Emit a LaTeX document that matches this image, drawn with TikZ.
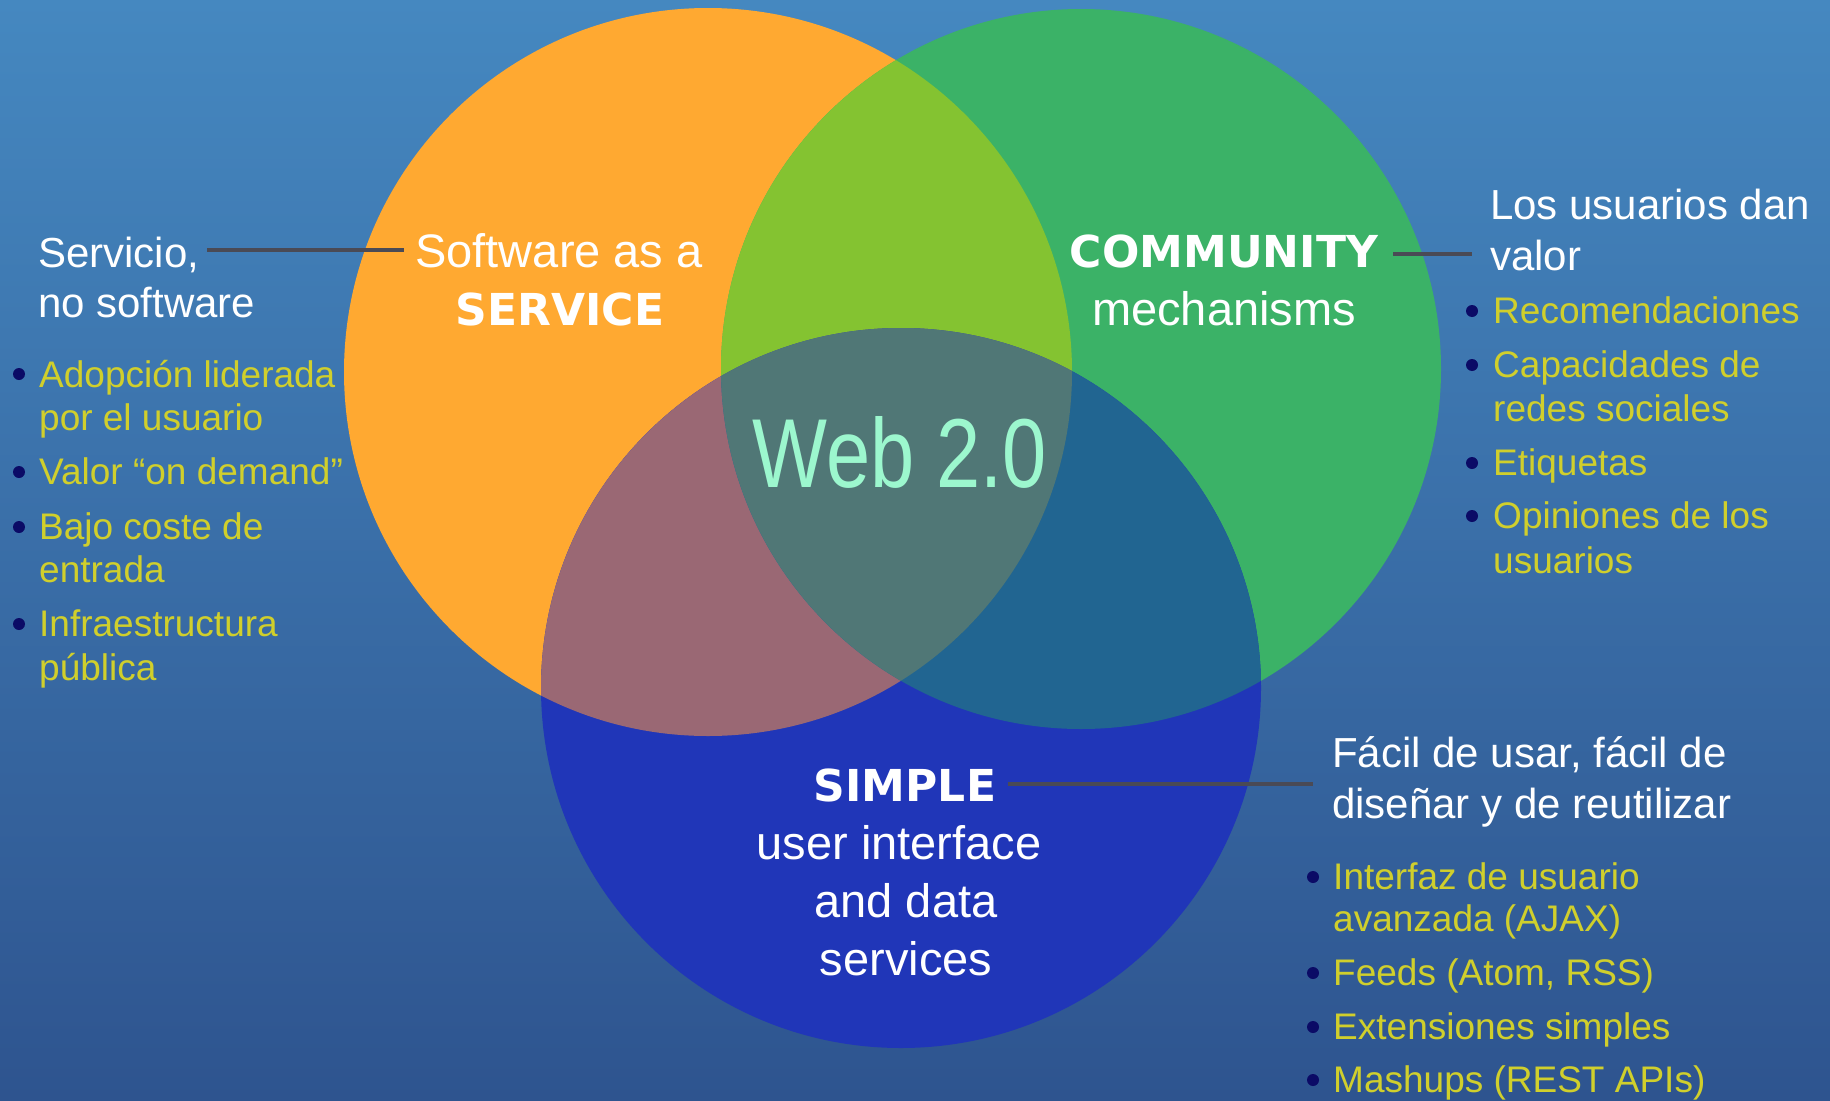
\documentclass[tikz,border=0pt]{standalone}
\usepackage{fontspec}
\setmainfont{Liberation Sans}
\newfontfamily\headf{DejaVu Sans}
\newfontfamily\webf{Liberation Sans}[FakeStretch=0.81]
\definecolor{bgtop}{HTML}{4588C0}
\definecolor{bgbot}{HTML}{2E548F}
\definecolor{orng}{HTML}{FFA931}
\definecolor{grn}{HTML}{3BB267}
\definecolor{blu}{HTML}{2036B8}
\definecolor{ogc}{HTML}{84C331}
\definecolor{obc}{HTML}{9A6874}
\definecolor{gbc}{HTML}{216591}
\definecolor{tric}{HTML}{507776}
\definecolor{ylw}{HTML}{D0CF2C}
\definecolor{navy}{HTML}{0B0B66}
\definecolor{lnclr}{HTML}{4A4A55}
\definecolor{webc}{HTML}{9CF7CE}
\begin{document}
\begin{tikzpicture}[x=1pt,y=-1pt,
  wt/.style={text=white, font=\fontsize{42}{50}\selectfont, anchor=base west, inner sep=0},
  yt/.style={text=ylw, font=\fontsize{37}{44}\selectfont, anchor=base west, inner sep=0},
  bul/.style={circle, fill=navy, minimum size=12, inner sep=0},
  hd/.style={text=white, font=\headf\bfseries\fontsize{44}{50}\selectfont, anchor=base, inner sep=0},
  inn/.style={text=white, font=\fontsize{47}{56}\selectfont, anchor=base, inner sep=0},
  conn/.style={draw=lnclr, line width=4.5}]
\useasboundingbox (0,0) rectangle (1830,1100);
\shade[top color=bgtop, bottom color=bgbot] (0,0) rectangle (1830,1100);
% circles
\coordinate (O) at (708,372);
\coordinate (G) at (1081,369);
\coordinate (B) at (901,688);
\fill[orng] (O) circle[radius=364];
\fill[grn] (G) circle[radius=360];
\fill[blu] (B) circle[radius=360];
\begin{scope}\clip (O) circle[radius=364]; \fill[ogc] (G) circle[radius=360];\end{scope}
\begin{scope}\clip (O) circle[radius=364]; \fill[obc] (B) circle[radius=360];\end{scope}
\begin{scope}\clip (G) circle[radius=360]; \fill[gbc] (B) circle[radius=360];\end{scope}
\begin{scope}\clip (O) circle[radius=364]; \clip (G) circle[radius=360]; \fill[tric] (B) circle[radius=360];\end{scope}
% centre texts
\node[text=webc, font=\webf\fontsize{98}{110}\selectfont, anchor=base, inner sep=0] (web) at (900,487) {Web 2.0};
\node[inn] (saas1) at (559,267) {Software as a};
\node[hd] (saas2) at (560,325) {SERVICE};
\node[hd] (comm1) at (1224,267) {COMMUNITY};
\node[inn] (comm2) at (1224,325) {mechanisms};
\node[hd] (simp1) at (905,801) {SIMPLE};
\node[inn] (simp2) at (899,859) {user interface};
\node[inn] (simp3) at (906,917) {and data};
\node[inn] (simp4) at (906,975) {services};
% left column
\node[wt] (l1) at (38,267) {Servicio,};
\node[wt] (l2) at (38,317) {no software};
\node[bul] (lb1) at (19,374) {};
\node[yt] (la1) at (39,387) {Adopción liderada};
\node[yt] (la2) at (39,430) {por el usuario};
\node[bul] (lb2) at (19,472) {};
\node[yt] (lc1) at (39,484) {Valor “on demand”};
\node[bul] (lb3) at (19,527) {};
\node[yt] (ld1) at (39,539) {Bajo coste de};
\node[yt] (ld2) at (39,582) {entrada};
\node[bul] (lb4) at (19,624) {};
\node[yt] (le1) at (39,636) {Infraestructura};
\node[yt] (le2) at (39,680) {pública};
% right top column
\node[wt] (r1) at (1490,219) {Los usuarios dan};
\node[wt] (r2) at (1490,270) {valor};
\node[bul] (rb1) at (1472,311) {};
\node[yt] (ra1) at (1493,323) {Recomendaciones};
\node[bul] (rb2) at (1472,365) {};
\node[yt] (rc1) at (1493,377) {Capacidades de};
\node[yt] (rc2) at (1493,421) {redes sociales};
\node[bul] (rb3) at (1472,463) {};
\node[yt] (rd1) at (1493,475) {Etiquetas};
\node[bul] (rb4) at (1472,516) {};
\node[yt] (re1) at (1493,528) {Opiniones de los};
\node[yt] (re2) at (1493,573) {usuarios};
% bottom right column
\node[wt] (s1) at (1332,767) {Fácil de usar, fácil de};
\node[wt] (s2) at (1332,818) {diseñar y de reutilizar};
\node[bul] (sb1) at (1313,877) {};
\node[yt] (sa1) at (1333,889) {Interfaz de usuario};
\node[yt] (sa2) at (1333,931) {avanzada (AJAX)};
\node[bul] (sb2) at (1313,973) {};
\node[yt] (sc1) at (1333,985) {Feeds (Atom, RSS)};
\node[bul] (sb3) at (1313,1027) {};
\node[yt] (sd1) at (1333,1039) {Extensiones simples};
\node[bul] (sb4) at (1313,1080) {};
\node[yt] (se1) at (1333,1092) {Mashups (REST APIs)};
% connectors
\coordinate (k1a) at (207,250);
\coordinate (k1b) at (404,250);
\coordinate (k2a) at (1393,254);
\coordinate (k2b) at (1472,254);
\coordinate (k3a) at (1008,784);
\coordinate (k3b) at (1313,784);
\draw[conn] (k1a) -- (k1b);
\draw[conn] (k2a) -- (k2b);
\draw[conn] (k3a) -- (k3b);
\end{tikzpicture}
\end{document}
